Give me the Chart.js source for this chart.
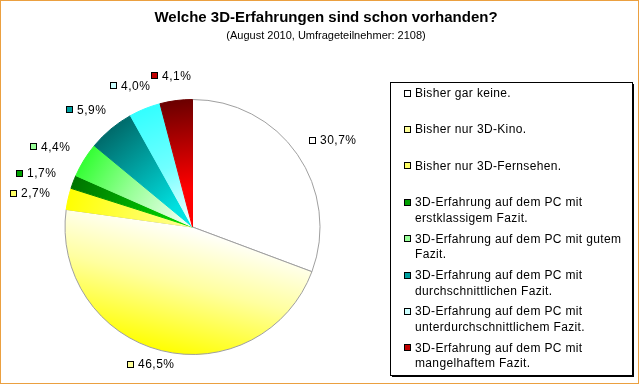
<!DOCTYPE html>
<html><head><meta charset="utf-8">
<script src="https://cdn.jsdelivr.net/npm/chart.js@4.4.0/dist/chart.umd.min.js"></script>
<style>html,body{margin:0;padding:0;background:#fff;}canvas{display:block;}</style>
</head><body>
<canvas id="c" width="640" height="384"></canvas>
<script>
const titleText = 'Welche 3D-Erfahrungen sind schon vorhanden?';
const subtitleText = '(August 2010, Umfrageteilnehmer: 2108)';
const categories = [
  ['Bisher gar keine.'],
  ['Bisher nur 3D-Kino.'],
  ['Bisher nur 3D-Fernsehen.'],
  ['3D-Erfahrung auf dem PC mit', 'erstklassigem Fazit.'],
  ['3D-Erfahrung auf dem PC mit gutem', 'Fazit.'],
  ['3D-Erfahrung auf dem PC mit', 'durchschnittlichen Fazit.'],
  ['3D-Erfahrung auf dem PC mit', 'unterdurchschnittlichem Fazit.'],
  ['3D-Erfahrung auf dem PC mit', 'mangelhaftem Fazit.']
];
const values = [30.7, 46.5, 2.7, 1.7, 4.4, 5.9, 4.0, 4.1];

// styles
const markerColors = ['#FFFFFF', '#FFFF99', '#FFFF66', '#00A000', '#99FF99', '#00A0A0', '#CCFFFF', '#C00000'];
const gradStops = [
  [[0, '#FFFFFF'], [1, '#FFFFFF']],
  [[0, '#FFFF00'], [0.55, '#FFFFA0'], [1, '#FFFFFF']],
  [[0, '#FFFF00'], [1, '#FFFF99']],
  [[0, '#007400'], [1, '#00E000']],
  [[0, '#33FF33'], [0.45, '#99FF99'], [1, '#FFFFFF']],
  [[0, '#006A6A'], [0.8, '#00E0E0'], [1, '#00E8E8']],
  [[0, '#33FFFF'], [0.5, '#70FFFF'], [1, '#FFFFFF']],
  [[0, '#6A0000'], [0.7, '#FF0000'], [1, '#FF0000']]
];
const edgeColors = ['#A0A0A0', '#A0A0A0', null, null, null, null, null, null];

const FONT = '"Liberation Sans", Arial, sans-serif';

function fmt(v) { return v.toFixed(1).replace('.', ',') + '%'; }

function sliceFill(ctx) {
  const chart = ctx.chart, area = chart.chartArea, i = ctx.dataIndex;
  if (!area) return markerColors[i];
  const cx = (area.left + area.right) / 2, cy = (area.top + area.bottom) / 2;
  const r = Math.min(area.right - area.left, area.bottom - area.top) / 2;
  const total = values.reduce((a, b) => a + b, 0);
  let start = 0;
  for (let k = 0; k < i; k++) start += values[k];
  const mid = (start + values[i] / 2) / total * 2 * Math.PI;
  const ox = cx + r * Math.sin(mid), oy = cy - r * Math.cos(mid);
  const g = chart.ctx.createLinearGradient(ox, oy, cx, cy);
  gradStops[i].forEach(s => g.addColorStop(s[0], s[1]));
  return g;
}
function sliceEdge(ctx) {
  const c = edgeColors[ctx.dataIndex];
  return c ? c : sliceFill(ctx);
}

const decor = {
  id: 'decor',
  beforeDraw(chart) {
    const c = chart.ctx;
    c.save();
    c.fillStyle = '#FFFFFF';
    c.fillRect(0, 0, chart.width, chart.height);
    c.restore();
  },
  afterDatasetsDraw(chart) {
    const c = chart.ctx;
    const meta = chart.getDatasetMeta(0);
    c.save();
    c.font = '12px ' + FONT;
    c.letterSpacing = '0.5px';
    c.textBaseline = 'middle';
    c.textAlign = 'left';
    const gap = 19;
    const maxY = chart.height - 20;
    meta.data.forEach((arc, i) => {
      const mid = (arc.startAngle + arc.endAngle) / 2;
      const ux = Math.cos(mid), uy = Math.sin(mid);
      const txt = fmt(values[i]);
      const tw = c.measureText(txt).width;
      const w = 7 + 4 + tw, h = 12;
      const R = arc.outerRadius + gap;
      const ax = arc.x + R * ux + ux * w / 2;
      const ay = Math.min(maxY, arc.y + R * uy + uy * h / 2);
      const left = Math.round(ax - w / 2);
      const sy = Math.round(ay - 3.5);
      c.fillStyle = markerColors[i];
      c.fillRect(left, sy, 7, 7);
      c.strokeStyle = '#000000';
      c.lineWidth = 1;
      c.strokeRect(left + 0.5, sy + 0.5, 6, 6);
      c.fillStyle = '#000000';
      c.fillText(txt, left + 11, Math.round(ay) + 0.5);
    });
    c.restore();
  },
  afterDraw(chart) {
    const c = chart.ctx;
    c.save();
    // outer frame
    c.strokeStyle = '#EBA040';
    c.lineWidth = 1;
    c.strokeRect(0.5, 0.5, 638, 383);
    // title
    c.fillStyle = '#000000';
    c.textAlign = 'center';
    c.textBaseline = 'middle';
    c.font = 'bold 15px ' + FONT;
    c.fillText(titleText, 326, 18);
    c.font = '11px ' + FONT;
    c.fillText(subtitleText, 326, 36);
    // legend box
    c.strokeStyle = '#000000';
    c.lineWidth = 1;
    c.strokeRect(390.5, 82.5, 242, 293);
    c.beginPath();
    c.moveTo(633.5, 84); c.lineTo(633.5, 377);
    c.moveTo(392, 376.5); c.lineTo(634, 376.5);
    c.stroke();
    // legend items
    c.textAlign = 'left';
    c.font = '12px ' + FONT;
    c.letterSpacing = '0.35px';
    const step = 36.4, lineH = 15.5;
    categories.forEach((lines, i) => {
      const y0 = 93 + i * step;
      const sy = Math.round(y0 - 3.5);
      c.fillStyle = markerColors[i];
      c.fillRect(404, sy, 7, 7);
      c.strokeStyle = '#000000';
      c.strokeRect(404.5, sy + 0.5, 6, 6);
      c.fillStyle = '#000000';
      lines.forEach((ln, k) => c.fillText(ln, 415, Math.round(y0 + k * lineH) + 0.5));
    });
    c.restore();
  }
};

new Chart(document.getElementById('c'), {
  type: 'pie',
  data: {
    labels: categories,
    datasets: [{
      data: values,
      backgroundColor: sliceFill,
      borderColor: sliceEdge,
      borderWidth: 1
    }]
  },
  options: {
    responsive: false,
    devicePixelRatio: 1,
    animation: false,
    events: [],
    layout: { padding: { left: 64.5, right: 319.5, top: 99, bottom: 29 } },
    plugins: {
      legend: { display: false },
      title: { display: false },
      tooltip: { enabled: false }
    }
  },
  plugins: [decor]
});
</script>
</body></html>
